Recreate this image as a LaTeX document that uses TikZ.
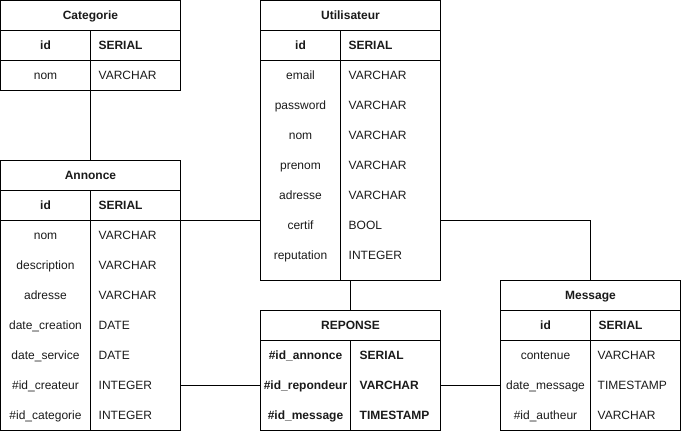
\documentclass[tikz,border=0pt]{standalone}
\usepackage{fontspec}
\setmainfont{Liberation Sans}
\usetikzlibrary{positioning,calc}
\definecolor{ink}{HTML}{1A1A1A}
\tikzset{
  every node/.style={font=\fontsize{12}{14}\selectfont,text=ink,text height=8.6pt,text depth=0pt},
  frame/.style={draw=black,line width=1pt,inner sep=0pt,outer sep=0pt,anchor=north west},
  headcell/.style={draw=black,line width=1pt,minimum height=30pt,inner sep=0pt,outer sep=0pt,anchor=north west,font=\fontsize{12}{14}\selectfont\bfseries},
  keycell/.style={headcell},
  keytype/.style={headcell,align=left,inner xsep=8pt},
  field/.style={inner sep=0pt},
  ftype/.style={inner sep=0pt,anchor=west},
  keyfield/.style={field,font=\fontsize{12}{14}\selectfont\bfseries},
  keyftype/.style={ftype,font=\fontsize{12}{14}\selectfont\bfseries},
  link/.style={draw=black,line width=1pt},
}

\begin{document}
\begin{tikzpicture}[x=1pt,y=-1pt]
  \useasboundingbox (0,0) rectangle (681,432);

  % Categorie
  \node[frame,minimum width=180pt,minimum height=90pt] (categorie) at (0.5,0.5) {};
  \node[headcell,minimum width=180pt] (cat-h) at (categorie.north west) {Categorie};
  \node[keycell,minimum width=90pt] (cat-id) at (cat-h.south west) {id};
  \node[keytype,text width=74pt] (cat-idt) at (cat-id.north east) {SERIAL};
  \node[field] (cat-nom) at (45.5,75.5) {nom};
  \node[ftype] (cat-nom-t) at (98.5,75.5) {VARCHAR};
  \draw[link] (cat-id.south east) -- (cat-id.south east |- categorie.south);

  % Annonce
  \node[frame,minimum width=180pt,minimum height=270pt] (annonce) at (0.5,160.5) {};
  \node[headcell,minimum width=180pt] (an-h) at (annonce.north west) {Annonce};
  \node[keycell,minimum width=90pt] (an-id) at (an-h.south west) {id};
  \node[keytype,text width=74pt] (an-idt) at (an-id.north east) {SERIAL};
  \node[field] (an-nom) at (45.5,235.5) {nom};
  \node[ftype] (an-nom-t) at (98.5,235.5) {VARCHAR};
  \node[field] (an-desc) at (45.5,265.5) {description};
  \node[ftype] (an-desc-t) at (98.5,265.5) {VARCHAR};
  \node[field] (an-adr) at (45.5,295.5) {adresse};
  \node[ftype] (an-adr-t) at (98.5,295.5) {VARCHAR};
  \node[field] (an-creation) at (45.5,325.5) {date\_creation};
  \node[ftype] (an-creation-t) at (98.5,325.5) {DATE};
  \node[field] (an-service) at (45.5,355.5) {date\_service};
  \node[ftype] (an-service-t) at (98.5,355.5) {DATE};
  \node[field] (an-createur) at (45.5,385.5) {\#id\_createur};
  \node[ftype] (an-createur-t) at (98.5,385.5) {INTEGER};
  \node[field] (an-categorie) at (45.5,415.5) {\#id\_categorie};
  \node[ftype] (an-categorie-t) at (98.5,415.5) {INTEGER};
  \draw[link] (an-id.south east) -- (an-id.south east |- annonce.south);

  % Utilisateur
  \node[frame,minimum width=180pt,minimum height=280pt] (utilisateur) at (260.5,0.5) {};
  \node[headcell,minimum width=180pt] (ut-h) at (utilisateur.north west) {Utilisateur};
  \node[keycell,minimum width=80pt] (ut-id) at (ut-h.south west) {id};
  \node[keytype,text width=84pt] (ut-idt) at (ut-id.north east) {SERIAL};
  \node[field] (ut-email) at (300.5,75.5) {email};
  \node[ftype] (ut-email-t) at (348.5,75.5) {VARCHAR};
  \node[field] (ut-password) at (300.5,105.5) {password};
  \node[ftype] (ut-password-t) at (348.5,105.5) {VARCHAR};
  \node[field] (ut-nom) at (300.5,135.5) {nom};
  \node[ftype] (ut-nom-t) at (348.5,135.5) {VARCHAR};
  \node[field] (ut-prenom) at (300.5,165.5) {prenom};
  \node[ftype] (ut-prenom-t) at (348.5,165.5) {VARCHAR};
  \node[field] (ut-adr) at (300.5,195.5) {adresse};
  \node[ftype] (ut-adr-t) at (348.5,195.5) {VARCHAR};
  \node[field] (ut-certif) at (300.5,225.5) {certif};
  \node[ftype] (ut-certif-t) at (348.5,225.5) {BOOL};
  \node[field] (ut-reput) at (300.5,255.5) {reputation};
  \node[ftype] (ut-reput-t) at (348.5,255.5) {INTEGER};
  \draw[link] (ut-id.south east) -- (ut-id.south east |- utilisateur.south);

  % REPONSE
  \node[frame,minimum width=180pt,minimum height=120pt] (reponse) at (260.5,310.5) {};
  \node[headcell,minimum width=180pt] (re-h) at (reponse.north west) {REPONSE};
  \node[keyfield] (re-annonce) at (305.5,355.5) {\#id\_annonce};
  \node[keyftype] (re-annonce-t) at (359.5,355.5) {SERIAL};
  \node[keyfield] (re-repondeur) at (305.5,385.5) {\#id\_repondeur};
  \node[keyftype] (re-repondeur-t) at (359.5,385.5) {VARCHAR};
  \node[keyfield] (re-message) at (305.5,415.5) {\#id\_message};
  \node[keyftype] (re-message-t) at (359.5,415.5) {TIMESTAMP};
  \draw[link] ($(re-h.south west)+(90,0)$) -- ($(reponse.south west)+(90,0)$);

  % Message
  \node[frame,minimum width=180pt,minimum height=150pt] (message) at (500.5,280.5) {};
  \node[headcell,minimum width=180pt] (me-h) at (message.north west) {Message};
  \node[keycell,minimum width=90pt] (me-id) at (me-h.south west) {id};
  \node[keytype,text width=74pt] (me-idt) at (me-id.north east) {SERIAL};
  \node[field] (me-contenue) at (545.5,355.5) {contenue};
  \node[ftype] (me-contenue-t) at (597.5,355.5) {VARCHAR};
  \node[field] (me-date) at (545.5,385.5) {date\_message};
  \node[ftype] (me-date-t) at (597.5,385.5) {TIMESTAMP};
  \node[field] (me-auteur) at (545.5,415.5) {\#id\_autheur};
  \node[ftype] (me-auteur-t) at (597.5,415.5) {VARCHAR};
  \draw[link] (me-id.south east) -- (me-id.south east |- message.south);

  % liens
  \draw[link] (categorie.south) -- (annonce.north);
  \draw[link] (an-idt.south east) -- (an-idt.south east -| utilisateur.west);
  \draw[link] (utilisateur.east |- an-idt.south east) -| (message.north);
  \draw[link] (utilisateur.south) -- (reponse.north);
  \draw[link] (an-createur-t -| annonce.east) -- (an-createur-t -| reponse.west);
  \draw[link] (re-repondeur -| reponse.east) -- (re-repondeur -| message.west);
\end{tikzpicture}
\end{document}
